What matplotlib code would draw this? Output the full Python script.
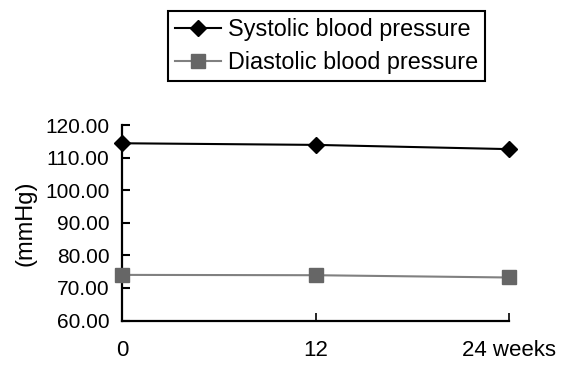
import matplotlib
matplotlib.use("Agg")
import matplotlib.pyplot as plt
from matplotlib.ticker import FormatStrFormatter

plt.rcParams['font.family'] = ['Liberation Sans', 'DejaVu Sans']

# Data
weeks = [0, 12, 24]
week_labels = ["0", "12", "24 weeks"]
systolic = [114.4, 113.9, 112.6]
diastolic = [74.0, 73.9, 73.2]
y_ticks = [60, 70, 80, 90, 100, 110, 120]

fig = plt.figure(figsize=(5.67, 3.65), dpi=100)
ax = fig.add_axes([0.2152, 0.1219, 0.8977 - 0.2152, 0.6575 - 0.1219])

ax.plot(weeks, systolic, color='black', lw=1.5, marker='D', markersize=8,
        label='Systolic blood pressure', clip_on=False, zorder=3)
ax.plot(weeks, diastolic, color='#808080', lw=1.5, marker='s', markersize=10,
        markerfacecolor='#666666', markeredgecolor='#666666',
        label='Diastolic blood pressure', clip_on=False, zorder=3)

ax.set_xlim(0, 24)
ax.set_ylim(60, 120)
ax.set_xticks(weeks)
ax.set_xticklabels(week_labels)
ax.set_yticks(y_ticks)
ax.yaxis.set_major_formatter(FormatStrFormatter('%.2f'))

for s in ['top', 'right']:
    ax.spines[s].set_visible(False)
for s in ['left', 'bottom']:
    ax.spines[s].set_linewidth(1.6)

ax.tick_params(axis='y', direction='in', length=6, width=1.5, pad=9, labelsize=15)
ax.tick_params(axis='x', direction='in', length=6, width=1.2, pad=14, labelsize=16)
ax.set_ylabel('(mmHg)', fontsize=17, labelpad=6)

leg = fig.legend(loc='center', bbox_to_anchor=(0.5758, 0.874), fontsize=16.8,
                 frameon=True, fancybox=False, edgecolor='black', framealpha=1,
                 handlelength=2.0, handletextpad=0.3, borderpad=0.3,
                 labelspacing=0.42, borderaxespad=0)
leg.get_frame().set_linewidth(1.5)

fig.savefig('out.png', dpi=100)
